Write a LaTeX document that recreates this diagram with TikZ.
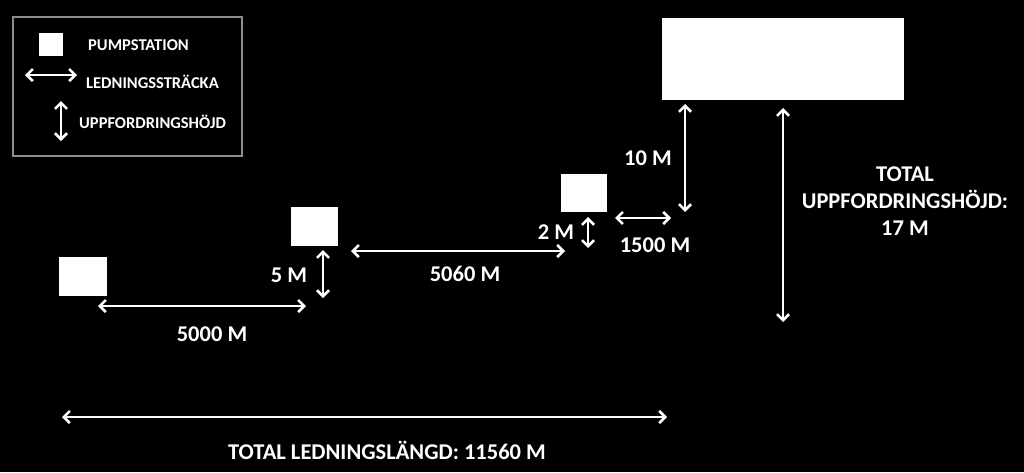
\documentclass[tikz,border=0pt]{standalone}
\usepackage{fontspec}
\setmainfont{Carlito}
\usetikzlibrary{arrows.meta}
\begin{document}
\begin{tikzpicture}[x=1pt,y=-1pt,
  station/.style={rectangle,fill=white,draw=none,inner sep=0pt},
  dimarrow/.style={draw=white,line width=2.6pt,{Straight Barb[length=6pt,width=12pt]}-{Straight Barb[length=6pt,width=12pt]}},
  lbl/.style={text=white,font=\fontsize{22.5}{27}\selectfont\bfseries,inner sep=0pt},
  leg/.style={text=white,font=\fontsize{16.5}{19}\selectfont\bfseries,inner sep=0pt,anchor=west},
  frame/.style={draw=black!45!white,line width=1.2pt}]
\fill[black] (0,0) rectangle (1024,472);
\useasboundingbox (0,0) rectangle (1024,472);
% legend
\node[frame,rectangle,minimum width=229pt,minimum height=139pt,inner sep=0pt] (legend) at (127.5,86.5) {};
\node[station,minimum width=24pt,minimum height=23pt] (lsq) at (51,44.5) {};
\node[leg] (tpump) at (88,45) {PUMPSTATION};
\coordinate (lh1) at (25,75); \coordinate (lh2) at (77,75);
\draw[dimarrow] (lh1) -- (lh2);
\node[leg] (tled) at (86,82) {LEDNINGSSTRÄCKA};
\coordinate (lv1) at (61,101); \coordinate (lv2) at (61,141);
\draw[dimarrow] (lv1) -- (lv2);
\node[leg] (tupp) at (79,122) {UPPFORDRINGSHÖJD};
% stations
\node[station,minimum width=48pt,minimum height=39pt] (s1) at (83,276.5) {};
\node[station,minimum width=47pt,minimum height=39pt] (s2) at (314.5,226.5) {};
\node[station,minimum width=46pt,minimum height=38pt] (s3) at (584,193) {};
\node[station,minimum width=242pt,minimum height=82pt] (tank) at (783,59) {};
% dimension ends
\coordinate (a1s) at (98,306); \coordinate (a1e) at (306,306);
\coordinate (a2s) at (323,250); \coordinate (a2e) at (323,298);
\coordinate (a3s) at (351,251); \coordinate (a3e) at (565,251);
\coordinate (a4s) at (588,217); \coordinate (a4e) at (588,248);
\coordinate (a5s) at (615,218); \coordinate (a5e) at (671,218);
\coordinate (a6s) at (685,104); \coordinate (a6e) at (685,212);
\coordinate (a7s) at (783,108); \coordinate (a7e) at (783,322);
\coordinate (a8s) at (62,417); \coordinate (a8e) at (667,417);
\draw[dimarrow] (a1s) -- (a1e);
\draw[dimarrow] (a2s) -- (a2e);
\draw[dimarrow] (a3s) -- (a3e);
\draw[dimarrow] (a4s) -- (a4e);
\draw[dimarrow] (a5s) -- (a5e);
\draw[dimarrow] (a6s) -- (a6e);
\draw[dimarrow] (a7s) -- (a7e);
\draw[dimarrow] (a8s) -- (a8e);
% labels
\node[lbl] (l5) at (289,275) {5 M};
\node[lbl] (l5000) at (212,334) {5000 M};
\node[lbl] (l5060) at (465,274) {5060 M};
\node[lbl] (l2) at (556,232) {2 M};
\node[lbl] (l10) at (648,158) {10 M};
\node[lbl] (l1500) at (655,245) {1500 M};
\node[lbl,align=center,font=\fontsize{22.5}{27}\selectfont\bfseries] (ltot) at (905,201) {TOTAL\\UPPFORDRINGSHÖJD:\\17 M};
\node[lbl] (llen) at (387,450) {TOTAL LEDNINGSLÄNGD: 11560 M};
\end{tikzpicture}
\end{document}
